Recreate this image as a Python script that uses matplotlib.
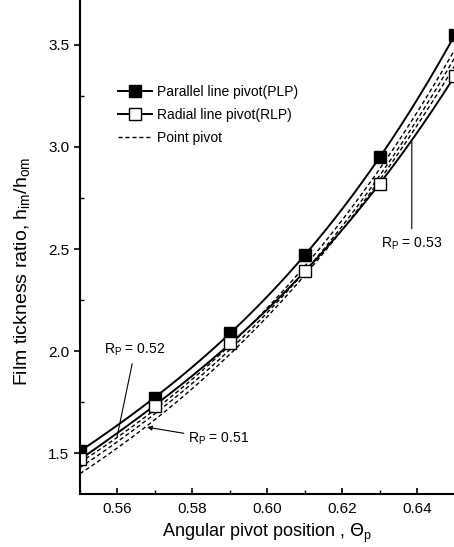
import matplotlib

matplotlib.use("Agg")
import matplotlib.pyplot as plt
import numpy as np
from matplotlib.ticker import MultipleLocator

plt.rcParams["font.family"] = ["Liberation Sans", "DejaVu Sans"]

# angular pivot position
theta = [0.55, 0.57, 0.59, 0.61, 0.63, 0.65]
# film thickness ratio
plp = [1.51, 1.77, 2.09, 2.47, 2.95, 3.55]
rlp = [1.47, 1.73, 2.04, 2.39, 2.82, 3.35]
pp_051 = [1.40, 1.66, 1.99, 2.37, 2.84, 3.40]
pp_052 = [1.43, 1.69, 2.01, 2.39, 2.86, 3.44]
pp_053 = [1.455, 1.71, 2.03, 2.42, 2.89, 3.48]


def smooth(x, y):
    # cubic fit so the curves look like the original smooth lines
    c = np.polyfit(x, y, 3)
    xs = np.linspace(min(x), max(x), 200)
    return xs, np.polyval(c, xs)


fig = plt.figure(figsize=(4.54, 5.47), dpi=100)
ax = fig.add_axes([0.176, 0.097, 0.826, 0.903])

for ys in (pp_051, pp_052, pp_053):
    ax.plot(*smooth(theta, ys), color="black", lw=1.0, ls=(0, (3, 2)))

ax.plot(*smooth(theta, plp), color="black", lw=1.4)
ax.plot(*smooth(theta, rlp), color="black", lw=1.4)
ax.plot(theta, plp, ls="none", marker="s", ms=8, mfc="black", mec="black")
ax.plot(theta, rlp, ls="none", marker="s", ms=8, mfc="white", mec="black",
        mew=1.0)

# legend proxies
ax.plot([], [], color="black", lw=1.4, marker="s", ms=8, mfc="black",
        label="Parallel line pivot(PLP)")
ax.plot([], [], color="black", lw=1.4, marker="s", ms=8, mfc="white",
        label="Radial line pivot(RLP)")
ax.plot([], [], color="black", lw=1.0, ls=(0, (3, 2)), label="Point pivot")
handles, labels = ax.get_legend_handles_labels()
ax.legend(handles[-3:], labels[-3:], loc="upper left",
          bbox_to_anchor=(0.075, 0.847), frameon=False, fontsize=10,
          handlelength=2.5, handletextpad=0.3, labelspacing=0.65,
          borderpad=0.2)

ax.annotate("R$_\\mathregular{P}$ = 0.52", xy=(0.5599, 1.58),
            xytext=(0.5647, 2.005), fontsize=10, ha="center", va="center",
            arrowprops=dict(arrowstyle="-", color="black", lw=0.8,
                            shrinkA=2, shrinkB=0))
ax.annotate("R$_\\mathregular{P}$ = 0.51", xy=(0.5679, 1.627),
            xytext=(0.5788, 1.569), fontsize=10, ha="left", va="center",
            arrowprops=dict(arrowstyle="-|>", color="black", lw=0.8,
                            mutation_scale=7, shrinkA=1, shrinkB=0))
ax.annotate("R$_\\mathregular{P}$ = 0.53", xy=(0.6385, 3.03),
            xytext=(0.6385, 2.525), fontsize=10, ha="center", va="center",
            arrowprops=dict(arrowstyle="-", color="black", lw=0.8,
                            shrinkA=3, shrinkB=0))

ax.set_xlim(0.55, 0.65)
ax.set_ylim(1.3, 3.72)
ax.xaxis.set_minor_locator(MultipleLocator(0.01))
ax.yaxis.set_minor_locator(MultipleLocator(0.25))
ax.set_xticks([0.56, 0.58, 0.60, 0.62, 0.64])
ax.set_xticklabels(["0.56", "0.58", "0.60", "0.62", "0.64"])
ax.set_yticks([1.5, 2.0, 2.5, 3.0, 3.5])
ax.tick_params(axis="x", which="both", direction="in", labelsize=11, pad=6)
ax.tick_params(axis="y", which="major", direction="out", labelsize=11)
ax.tick_params(axis="y", which="minor", direction="in")
ax.tick_params(which="major", length=4, width=1.2)
ax.tick_params(which="minor", length=3, width=1.0)

for side in ("top", "right"):
    ax.spines[side].set_visible(False)
for side in ("left", "bottom"):
    ax.spines[side].set_linewidth(1.5)

ax.set_xlabel("Angular pivot position , $\\Theta_\\mathregular{p}$",
              fontsize=13, labelpad=4)
ax.set_ylabel("Film tickness ratio, h$_\\mathregular{im}$/h$_\\mathregular{om}$",
              fontsize=14)
ax.yaxis.set_label_coords(-0.125, 0.45)

fig.savefig("out.png", dpi=100)
